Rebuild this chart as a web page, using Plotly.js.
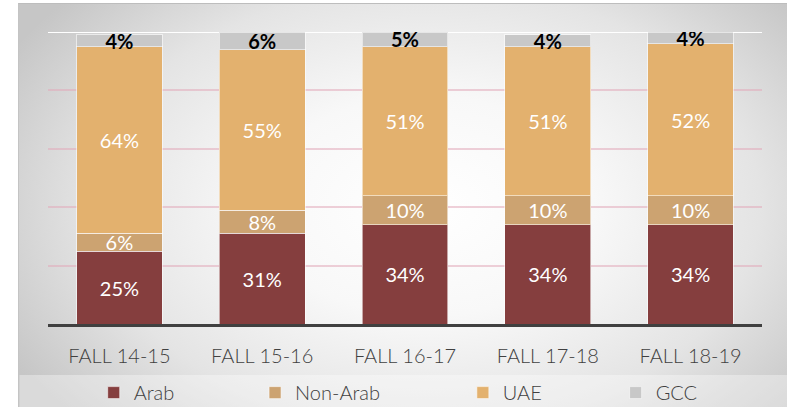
<!DOCTYPE html>
<html>
<head>
<meta charset="utf-8">
<script src="https://cdn.plot.ly/plotly-3.0.1.min.js"></script>
<style>
  html, body { margin: 0; padding: 0; background: #ffffff; }
  #frame {
    position: absolute; left: 18px; top: 3px; width: 769px; height: 404px;
    background: radial-gradient(ellipse 62% 78% at 53% 50%, #ffffff 0%, #f8f8f8 35%, #e4e4e4 70%, #c6c6c6 100%);
    border-top: 1px solid #bdbdbd; border-left: 1px solid #c4c4c4;
  }
  #chart { position: absolute; left: 0; top: 0; width: 787px; height: 407px; }
</style>
</head>
<body>
<div id="frame"></div>
<div id="chart"></div>
<script>
const categories = ["FALL 14-15", "FALL 15-16", "FALL 16-17", "FALL 17-18", "FALL 18-19"];
const arab    = [25, 31, 34, 34, 34];
const nonArab = [6, 8, 10, 10, 10];
const uae     = [64, 55, 51, 51, 52];
const gcc     = [4, 6, 5, 4, 4];

const seriesNames  = ["Arab", "Non-Arab", "UAE", "GCC"];
const seriesValues = [arab, nonArab, uae, gcc];
const seriesColors = ["#853e3e", "#cca371", "#e3b16e", "#c8c8c8"];
const textColors   = ["#ffffff", "#ffffff", "#ffffff", "#000000"];
const textWeights  = [400, 400, 400, 700];
const legendIds    = ["legend", "legend2", "legend3", "legend4"];
const legendX      = [0.064, 0.29, 0.581, 0.795];

const traces = seriesNames.map((name, i) => ({
  type: "bar",
  name: name,
  x: categories,
  y: seriesValues[i],
  marker: { color: seriesColors[i], line: { color: "rgba(255,255,255,0.55)", width: 1 } },
  texttemplate: "%{y}%",
  textposition: "inside",
  insidetextanchor: "middle",
  textangle: 0,
  textfont: { family: "Lato, 'Open Sans', sans-serif", size: 20, color: textColors[i], weight: textWeights[i] },
  hoverinfo: "skip",
  legend: legendIds[i]
}));

const legendBase = {
  orientation: "h",
  yanchor: "middle",
  xanchor: "left",
  y: -0.235,
  bgcolor: "rgba(0,0,0,0)",
  font: { family: "Lato, 'Open Sans', sans-serif", size: 20, color: "#404040", weight: 300 }
};

const layout = {
  width: 787,
  height: 407,
  margin: { l: 48, r: 25, t: 32, b: 83, autoexpand: false },
  paper_bgcolor: "rgba(0,0,0,0)",
  plot_bgcolor: "rgba(0,0,0,0)",
  barmode: "stack",
  bargap: 0.4,
  uniformtext: { mode: "show", minsize: 20 },
  xaxis: {
    type: "category",
    showgrid: false,
    showline: true,
    linecolor: "#404040",
    linewidth: 3,
    ticks: "",
    ticklabelstandoff: 12,
    tickfont: { family: "Lato, 'Open Sans', sans-serif", size: 20, color: "#404040", weight: 300 },
    fixedrange: true
  },
  yaxis: {
    range: [0, 100],
    dtick: 20,
    showticklabels: false,
    showgrid: true,
    gridcolor: "rgba(225,170,185,0.55)",
    gridwidth: 2,
    zeroline: false,
    fixedrange: true
  },
  showlegend: true,
  legend:  Object.assign({}, legendBase, { x: legendX[0] }),
  legend2: Object.assign({}, legendBase, { x: legendX[1] }),
  legend3: Object.assign({}, legendBase, { x: legendX[2] }),
  legend4: Object.assign({}, legendBase, { x: legendX[3] }),
  shapes: [
    { type: "rect", xref: "paper", yref: "paper", x0: -0.04, x1: 1.04, y0: -0.3, y1: -0.175,
      fillcolor: "rgba(255,255,255,0.35)", line: { width: 0 }, layer: "below" },
    { type: "line", xref: "paper", yref: "y", x0: 0, x1: 1, y0: 100, y1: 100,
      line: { color: "#ffffff", width: 2 }, layer: "below" }
  ]
};

Plotly.newPlot("chart", traces, layout, { staticPlot: true, displayModeBar: false });
</script>
</body>
</html>
